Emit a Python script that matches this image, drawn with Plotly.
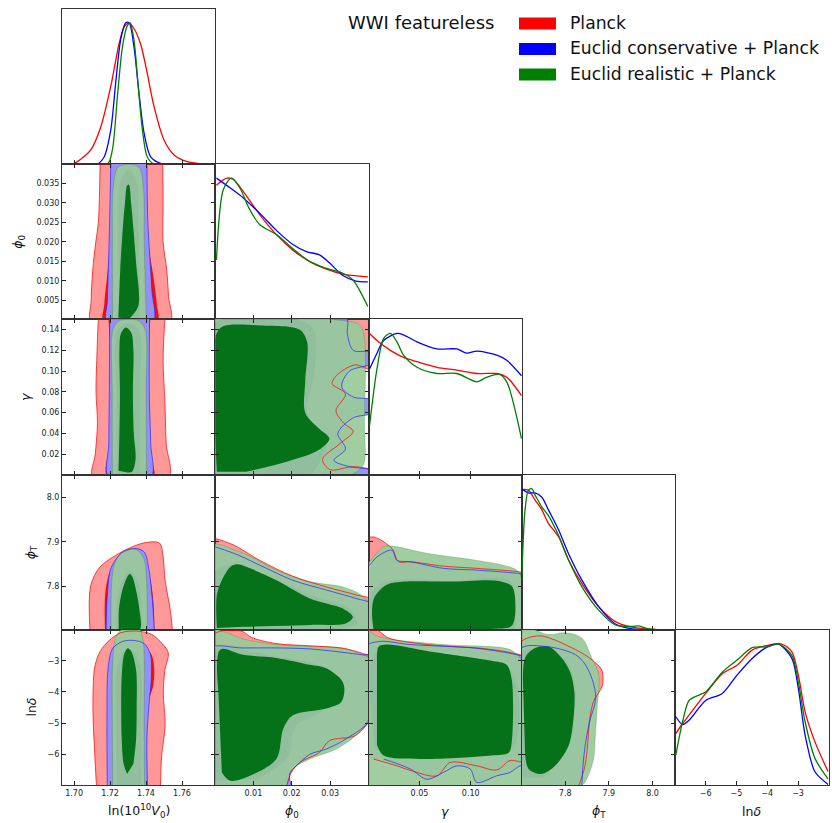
import plotly.graph_objects as go

# ---------------- data ----------------
PARAMS = ["V0", "phi0", "gamma", "phiT", "lnd"]
SERIES = ["Planck", "Euclid conservative + Planck", "Euclid realistic + Planck"]
TITLE = "WWI featureless"
AXIS_LABELS = ["ln(10<sup>10</sup><i>V</i><sub>0</sub>)", "<i>ϕ</i><sub>0</sub>", "<i>γ</i>",
               "<i>ϕ</i><sub>T</sub>", "ln<i>δ</i>"]

RANGES = {"V0": [1.6933, 1.7785], "phi0": [0.0001, 0.0400], "gamma": [0.0003, 0.1499],
          "phiT": [7.7008, 8.052], "lnd": [-6.99, -2.01]}
XTICKS = {"V0": [1.70, 1.72, 1.74, 1.76], "phi0": [0.01, 0.02, 0.03], "gamma": [0.05, 0.10],
          "phiT": [7.8, 7.9, 8.0], "lnd": [-6, -5, -4, -3]}
YTICKS = {"phi0": [0.005, 0.010, 0.015, 0.020, 0.025, 0.030, 0.035],
          "gamma": [0.02, 0.04, 0.06, 0.08, 0.10, 0.12, 0.14],
          "phiT": [7.8, 7.9, 8.0], "lnd": [-6, -5, -4, -3]}
XFMT = {"V0": "{:.2f}", "phi0": "{:.2f}", "gamma": "{:.2f}", "phiT": "{:.1f}", "lnd": "{:.0f}"}
YFMT = {"phi0": "{:.3f}", "gamma": "{:.2f}", "phiT": "{:.1f}", "lnd": "{:.0f}"}

# 1D marginals (normalised to peak 1)
PL_V0_X = [1.690, 1.700, 1.7093, 1.7148, 1.7204, 1.725, 1.7278, 1.7306, 1.7333, 1.737, 1.7407, 1.7444, 1.750, 1.7556, 1.763, 1.770, 1.780]
PL_V0_P = [0.0, 0.005, 0.10, 0.26, 0.55, 0.85, 0.97, 1.0, 0.96, 0.85, 0.64, 0.41, 0.17, 0.064, 0.016, 0.003, 0.0]
EC_V0_X = [1.690, 1.713, 1.7167, 1.7204, 1.7231, 1.7259, 1.7287, 1.7306, 1.7333, 1.7361, 1.7389, 1.7426, 1.7481, 1.780]
EC_V0_P = [0.0, 0.0, 0.05, 0.24, 0.57, 0.88, 1.0, 1.0, 0.83, 0.50, 0.22, 0.05, 0.005, 0.0]
ER_V0_X = [1.690, 1.7185, 1.7213, 1.7241, 1.7269, 1.7296, 1.7311, 1.7333, 1.7352, 1.738, 1.7407, 1.7444, 1.780]
ER_V0_P = [0.0, 0.0, 0.10, 0.48, 0.83, 0.98, 1.0, 0.88, 0.62, 0.24, 0.05, 0.0, 0.0]

PL_PHI0_X = [0.0004, 0.0031, 0.0048, 0.0074, 0.0117, 0.016, 0.0203, 0.0246, 0.029, 0.0333, 0.0398]
PL_PHI0_P = [0.95, 1.0, 0.99, 0.905, 0.74, 0.60, 0.49, 0.41, 0.355, 0.32, 0.30]
EC_PHI0_X = [0.0004, 0.004, 0.0074, 0.0117, 0.016, 0.0203, 0.0238, 0.0272, 0.0298, 0.0333, 0.0367, 0.0398]
EC_PHI0_P = [1.0, 0.93, 0.86, 0.75, 0.63, 0.53, 0.48, 0.456, 0.40, 0.31, 0.27, 0.265]
ER_PHI0_X = [0.0004, 0.0022, 0.0043, 0.0065, 0.0091, 0.0117, 0.016, 0.0203, 0.0246, 0.029, 0.0333, 0.0359, 0.0398]
ER_PHI0_P = [0.42, 0.92, 1.0, 0.93, 0.775, 0.67, 0.60, 0.50, 0.41, 0.36, 0.326, 0.28, 0.09]

PL_GAM_X = [0.0013, 0.0085, 0.0215, 0.0344, 0.0475, 0.067, 0.0864, 0.1059, 0.1254, 0.1351, 0.1495]
PL_GAM_P = [1.0, 0.95, 0.88, 0.83, 0.80, 0.76, 0.74, 0.716, 0.716, 0.69, 0.56]
EC_GAM_X = [0.0013, 0.0085, 0.015, 0.028, 0.0344, 0.0475, 0.067, 0.0864, 0.096, 0.1059, 0.1254, 0.1351, 0.1495]
EC_GAM_P = [0.75, 0.86, 0.95, 1.0, 0.99, 0.94, 0.89, 0.89, 0.86, 0.875, 0.846, 0.81, 0.70]
ER_GAM_X = [0.0013, 0.0085, 0.015, 0.0215, 0.028, 0.0344, 0.0475, 0.067, 0.0864, 0.1059, 0.1157, 0.128, 0.1351, 0.1495]
ER_GAM_P = [0.35, 0.75, 0.965, 1.0, 0.94, 0.846, 0.76, 0.716, 0.716, 0.657, 0.69, 0.71, 0.657, 0.255]

PL_PHIT_X = [7.7005, 7.7157, 7.731, 7.7465, 7.7616, 7.7847, 7.8077, 7.838, 7.8766, 7.915, 7.953, 7.9916, 8.045]
PL_PHIT_P = [0.995, 0.99, 0.92, 0.85, 0.755, 0.66, 0.495, 0.33, 0.165, 0.059, 0.019, 0.005, 0.0]
EC_PHIT_X = [7.7005, 7.7157, 7.731, 7.7465, 7.7616, 7.7847, 7.8077, 7.838, 7.8766, 7.915, 7.953, 7.9916, 8.045]
EC_PHIT_P = [1.0, 0.97, 0.97, 0.94, 0.85, 0.71, 0.54, 0.354, 0.165, 0.042, 0.007, 0.0, 0.0]
ER_PHIT_X = [7.7005, 7.708, 7.7157, 7.7233, 7.731, 7.7465, 7.7616, 7.7847, 7.8077, 7.838, 7.8766, 7.915, 7.953, 7.9683, 7.9916, 8.045]
ER_PHIT_P = [0.354, 0.85, 0.99, 1.0, 0.955, 0.87, 0.81, 0.67, 0.495, 0.307, 0.14, 0.035, 0.024, 0.028, 0.007, 0.0]

PL_LND_X = [-6.97, -6.75, -6.54, -6.0, -5.46, -4.98, -4.49, -3.99, -3.53, -3.2, -2.99, -2.77, -2.45, -2.02]
PL_LND_P = [0.366, 0.437, 0.496, 0.65, 0.79, 0.85, 0.957, 0.99, 1.0, 0.945, 0.78, 0.52, 0.307, 0.095]
EC_LND_X = [-6.97, -6.75, -6.54, -6.0, -5.46, -4.98, -4.49, -3.99, -3.63, -3.2, -2.99, -2.77, -2.45, -2.02]
EC_LND_P = [0.485, 0.43, 0.46, 0.60, 0.65, 0.78, 0.898, 0.98, 1.0, 0.898, 0.686, 0.355, 0.095, 0.005]
ER_LND_X = [-6.97, -6.75, -6.54, -6.2, -6.0, -5.46, -4.98, -4.49, -3.99, -3.63, -3.2, -2.99, -2.77, -2.45, -2.02]
ER_LND_P = [0.213, 0.45, 0.60, 0.64, 0.66, 0.80, 0.886, 0.974, 0.98, 1.0, 0.92, 0.73, 0.45, 0.19, 0.043]

# 2D credible regions (95% and 68%), boundary points in data units (x param, y param)
PL_V0_PHI0_95 = [(1.7145, 0.0415), (1.7135, 0.025), (1.712, 0.0197), (1.7104, 0.0128), (1.7095, 0.005), (1.7098, -0.001),
                 (1.7533, -0.001), (1.7525, 0.006), (1.7515, 0.0128), (1.7495, 0.020), (1.7495, 0.030), (1.7493, 0.0415)]
PL_V0_PHI0_68 = [(1.7215, 0.0415), (1.721, 0.025), (1.719, 0.014), (1.7168, 0.004), (1.7165, -0.001),
                 (1.7462, -0.001), (1.746, 0.004), (1.7438, 0.012), (1.7405, 0.022), (1.7400, 0.0415)]
EC_V0_PHI0_95 = [(1.7205, 0.0415), (1.7195, 0.020), (1.7185, 0.005), (1.7183, -0.001),
                 (1.7437, -0.001), (1.7432, 0.008), (1.741, 0.025), (1.7405, 0.0415)]
EC_V0_PHI0_68 = [(1.7255, -0.001), (1.7245, 0.020), (1.7262, 0.036), (1.7305, 0.0385), (1.7345, 0.036),
                 (1.736, 0.020), (1.7365, -0.001)]
ER_V0_PHI0_95 = [(1.7214, -0.001), (1.7213, 0.020), (1.7218, 0.034), (1.7245, 0.0392), (1.7303, 0.0399),
                 (1.736, 0.0392), (1.7385, 0.034), (1.739, 0.020), (1.7402, -0.001)]
ER_V0_PHI0_68 = [(1.7246, 0.0005), (1.7259, 0.015), (1.7275, 0.026), (1.7283, 0.030), (1.7295, 0.0345), (1.7305, 0.0347),
                 (1.7317, 0.030), (1.7325, 0.026), (1.7344, 0.015), (1.7357, 0.0035), (1.731, 0.0004)]

PL_V0_GAM_95 = [(1.7135, 0.152), (1.7128, 0.12), (1.7122, 0.08), (1.713, 0.05), (1.7118, 0.02), (1.7105, -0.002),
                (1.7525, -0.002), (1.7512, 0.03), (1.7505, 0.07), (1.7495, 0.11), (1.7505, 0.152)]
PL_V0_GAM_68 = [(1.719, 0.152), (1.7198, 0.13), (1.720, 0.08), (1.7198, 0.03), (1.7185, -0.002),
                (1.7442, -0.002), (1.7425, 0.02), (1.7415, 0.08), (1.7415, 0.13), (1.7425, 0.152)]
EC_V0_GAM_95 = [(1.7198, 0.152), (1.7196, 0.08), (1.7193, 0.03), (1.7192, -0.002),
                (1.7428, -0.002), (1.7426, 0.03), (1.7418, 0.08), (1.742, 0.152)]
EC_V0_GAM_68 = [(1.7238, -0.002), (1.7235, 0.08), (1.7242, 0.14), (1.730, 0.146), (1.736, 0.14), (1.7367, 0.08), (1.737, -0.002)]
ER_V0_GAM_95 = [(1.7213, -0.002), (1.7212, 0.08), (1.7216, 0.14), (1.725, 0.1484), (1.7305, 0.1497),
                (1.736, 0.1484), (1.7395, 0.14), (1.740, 0.08), (1.7402, -0.002)]
ER_V0_GAM_68 = [(1.7247, 0.004), (1.7252, 0.04), (1.7255, 0.08), (1.7252, 0.12), (1.726, 0.136), (1.7288, 0.142),
                (1.7318, 0.137), (1.733, 0.12), (1.7327, 0.08), (1.7332, 0.04), (1.7342, 0.015), (1.7322, 0.003), (1.729, 0.0025)]

PL_V0_PHIT_95 = [(1.7089, 7.695), (1.7092, 7.80), (1.7144, 7.843), (1.7283, 7.881), (1.7394, 7.898), (1.7475, 7.897),
                 (1.7495, 7.866), (1.7506, 7.813), (1.7535, 7.745), (1.7548, 7.695)]
PL_V0_PHIT_68 = [(1.7172, 7.695), (1.7175, 7.79), (1.721, 7.84), (1.729, 7.862), (1.737, 7.86), (1.742, 7.82),
                 (1.7442, 7.76), (1.7446, 7.695)]
EC_V0_PHIT_95 = [(1.7178, 7.695), (1.7185, 7.78), (1.7205, 7.84), (1.7265, 7.875), (1.7339, 7.885), (1.739, 7.877),
                 (1.7415, 7.84), (1.7435, 7.77), (1.7447, 7.695)]
EC_V0_PHIT_68 = [(1.7235, 7.695), (1.7238, 7.76), (1.7265, 7.81), (1.731, 7.835), (1.7355, 7.81), (1.7375, 7.76), (1.738, 7.695)]
ER_V0_PHIT_95 = [(1.7206, 7.695), (1.7208, 7.80), (1.7225, 7.85), (1.7265, 7.877), (1.731, 7.884), (1.7355, 7.88),
                 (1.739, 7.86), (1.7404, 7.80), (1.7408, 7.695)]
ER_V0_PHIT_68 = [(1.7248, 7.703), (1.725, 7.75), (1.7268, 7.79), (1.7295, 7.82), (1.731, 7.827), (1.7325, 7.82),
                 (1.7345, 7.79), (1.7362, 7.75), (1.7367, 7.703), (1.731, 7.700)]

PL_V0_LND_95 = [(1.7125, -7.05), (1.7115, -6.0), (1.7105, -4.5), (1.7115, -3.2), (1.7145, -2.7), (1.7195, -2.35),
                (1.726, -2.1), (1.735, -2.05), (1.743, -2.15), (1.749, -2.45), (1.7524, -2.75), (1.7505, -3.3),
                (1.7496, -4.0), (1.7506, -5.07), (1.7487, -6.04), (1.748, -7.05)]
PL_V0_LND_68 = [(1.7195, -7.05), (1.7195, -4.5), (1.7205, -3.0), (1.7245, -2.55), (1.7335, -2.5), (1.7425, -2.75),
                (1.7445, -3.2), (1.744, -3.8), (1.7405, -4.5), (1.7395, -7.05)]
EC_V0_LND_95 = [(1.7185, -7.05), (1.7183, -5.0), (1.719, -3.2), (1.7215, -2.6), (1.727, -2.38), (1.7335, -2.35),
                (1.739, -2.45), (1.7425, -2.8), (1.743, -3.5), (1.7415, -4.5), (1.7405, -5.5), (1.7408, -7.05)]
EC_V0_LND_68 = [(1.7235, -7.05), (1.7232, -5.0), (1.724, -3.2), (1.728, -2.7), (1.733, -2.7), (1.737, -3.2),
                (1.7375, -5.0), (1.7372, -7.05)]
ER_V0_LND_95 = [(1.7215, -7.05), (1.7213, -5.0), (1.7215, -3.0), (1.7235, -2.2), (1.728, -1.95), (1.736, -1.95),
                (1.7385, -2.4), (1.739, -3.0), (1.7389, -5.0), (1.7392, -7.05)]
ER_V0_LND_68 = [(1.7295, -6.63), (1.7275, -6.3), (1.7265, -5.5), (1.7262, -4.5), (1.7265, -3.5), (1.7278, -2.8),
                (1.7298, -2.6), (1.7318, -2.7), (1.7345, -3.3), (1.7348, -4.5), (1.7345, -5.5), (1.733, -6.3)]

PL_PHI0_GAM_95 = [(-0.002, -0.002), (-0.002, 0.153), (0.041, 0.153), (0.041, 0.102), (0.0365, 0.106), (0.032, 0.097),
                  (0.0305, 0.088), (0.034, 0.078), (0.0315, 0.062), (0.0335, 0.050), (0.036, 0.042), (0.0325, 0.030),
                  (0.028, 0.015), (0.030, 0.005), (0.036, 0.008), (0.041, 0.004), (0.041, -0.002)]
PL_PHI0_GAM_68 = [(-0.001, -0.001), (-0.001, 0.145), (0.026, 0.145), (0.027, 0.10), (0.025, 0.06), (0.030, 0.03), (0.026, -0.001)]
EC_PHI0_GAM_95 = [(-0.002, -0.002), (-0.002, 0.153), (0.034, 0.153), (0.0345, 0.135), (0.036, 0.120), (0.041, 0.118),
                  (0.041, 0.108), (0.035, 0.100), (0.033, 0.085), (0.036, 0.075), (0.041, 0.072), (0.041, 0.060),
                  (0.036, 0.055), (0.032, 0.040), (0.034, 0.025), (0.031, 0.014), (0.035, 0.008), (0.041, 0.004), (0.041, -0.002)]
EC_PHI0_GAM_68 = [(-0.001, -0.001), (-0.001, 0.144), (0.025, 0.144), (0.026, 0.10), (0.024, 0.06), (0.029, 0.03), (0.025, -0.001)]
ER_PHI0_GAM_95 = [(-0.002, -0.002), (-0.002, 0.1487), (0.033, 0.1487), (0.0375, 0.145), (0.0388, 0.135), (0.0389, 0.05),
                  (0.0387, 0.010), (0.036, 0.001), (0.030, -0.002)]
ER_PHI0_GAM_68 = [(0.0005, 0.003), (0.0003, 0.135), (0.002, 0.143), (0.012, 0.144), (0.022, 0.14), (0.024, 0.128),
                  (0.0235, 0.09), (0.0235, 0.06), (0.027, 0.045), (0.0298, 0.035), (0.027, 0.024), (0.018, 0.012), (0.008, 0.003)]

PL_PHI0_PHIT_95 = [(-0.002, 7.695), (-0.002, 7.905), (0.004, 7.896), (0.0117, 7.858), (0.0203, 7.822), (0.029, 7.798),
                   (0.0367, 7.78), (0.041, 7.768), (0.041, 7.695)]
PL_PHI0_PHIT_68 = [(-0.001, 7.70), (-0.001, 7.83), (0.005, 7.855), (0.012, 7.83), (0.025, 7.785), (0.036, 7.755), (0.038, 7.72), (0.030, 7.70)]
EC_PHI0_PHIT_95 = [(-0.002, 7.695), (-0.002, 7.886), (0.004, 7.877), (0.0117, 7.847), (0.0203, 7.813), (0.029, 7.791),
                   (0.0367, 7.772), (0.041, 7.758), (0.041, 7.695)]
EC_PHI0_PHIT_68 = [(-0.001, 7.70), (-0.001, 7.825), (0.005, 7.85), (0.013, 7.825), (0.025, 7.78), (0.035, 7.75), (0.037, 7.715), (0.030, 7.70)]
ER_PHI0_PHIT_95 = [(-0.002, 7.695), (-0.002, 7.893), (0.0074, 7.874), (0.016, 7.836), (0.0247, 7.81), (0.0333, 7.798),
                   (0.0375, 7.783), (0.0395, 7.768), (0.041, 7.74), (0.041, 7.695)]
ER_PHI0_PHIT_68 = [(0.0005, 7.705), (0.0005, 7.78), (0.0018, 7.813), (0.004, 7.843), (0.0057, 7.849), (0.0083, 7.843),
                   (0.016, 7.813), (0.0247, 7.772), (0.0333, 7.749), (0.0359, 7.73), (0.0342, 7.716), (0.0247, 7.712), (0.0074, 7.708)]

PL_PHI0_LND_95 = [(-0.002, -7.05), (-0.002, -2.38), (0.0014, -2.05), (0.007, -2.05), (0.0095, -2.25), (0.016, -2.45),
                  (0.0247, -2.52), (0.0333, -2.6), (0.0395, -2.8), (0.041, -2.85), (0.041, -4.7), (0.0367, -5.39),
                  (0.0298, -5.56), (0.0272, -5.94), (0.0221, -6.26), (0.0199, -6.58), (0.0186, -7.05)]
PL_PHI0_LND_68 = [(-0.001, -6.9), (-0.001, -2.6), (0.016, -2.8), (0.030, -3.2), (0.034, -3.8), (0.030, -4.6),
                  (0.022, -5.0), (0.020, -6.0), (0.012, -6.8)]
EC_PHI0_LND_95 = [(-0.002, -7.05), (-0.002, -2.64), (0.0074, -2.59), (0.0247, -2.62), (0.0384, -2.81), (0.041, -2.85),
                  (0.041, -4.8), (0.0342, -5.5), (0.029, -5.83), (0.0247, -6.0), (0.0212, -6.37), (0.0195, -6.6), (0.0199, -7.05)]
EC_PHI0_LND_68 = [(-0.001, -6.85), (-0.001, -2.7), (0.015, -2.85), (0.029, -3.25), (0.033, -3.9), (0.028, -4.6),
                  (0.021, -5.1), (0.019, -6.1), (0.011, -6.8)]
ER_PHI0_LND_95 = [(-0.002, -7.05), (-0.002, -1.95), (0.002, -2.05), (0.0074, -2.3), (0.016, -2.48), (0.0247, -2.54),
                  (0.0333, -2.59), (0.0384, -2.8), (0.041, -3.0), (0.041, -4.6), (0.0367, -5.39), (0.0316, -5.83),
                  (0.0247, -6.15), (0.0203, -6.47), (0.0186, -7.05)]
ER_PHI0_LND_68 = [(0.0009, -4.0), (0.0014, -2.64), (0.0074, -2.81), (0.016, -2.91), (0.0247, -3.13), (0.029, -3.24),
                  (0.0329, -3.61), (0.0337, -3.88), (0.0329, -4.32), (0.029, -4.53), (0.0203, -4.75), (0.0178, -5.18),
                  (0.016, -6.15), (0.0091, -6.69), (0.004, -6.85), (0.0018, -6.58)]

PL_GAM_PHIT_95 = [(-0.002, 7.695), (-0.002, 7.905), (0.005, 7.911), (0.0231, 7.885), (0.0296, 7.855), (0.041, 7.855),
                  (0.0734, 7.845), (0.1059, 7.84), (0.148, 7.832), (0.152, 7.83), (0.152, 7.695)]
PL_GAM_PHIT_68 = [(0.002, 7.70), (0.002, 7.79), (0.02, 7.815), (0.08, 7.815), (0.14, 7.815), (0.146, 7.76), (0.145, 7.70)]
EC_GAM_PHIT_95 = [(-0.002, 7.695), (-0.002, 7.845), (0.001, 7.847), (0.0085, 7.866), (0.0231, 7.881), (0.028, 7.858),
                  (0.041, 7.855), (0.0734, 7.84), (0.1059, 7.836), (0.148, 7.828), (0.152, 7.826), (0.152, 7.695)]
EC_GAM_PHIT_68 = [(0.003, 7.70), (0.003, 7.785), (0.02, 7.812), (0.08, 7.812), (0.138, 7.812), (0.144, 7.76), (0.143, 7.70)]
ER_GAM_PHIT_95 = [(-0.002, 7.695), (-0.002, 7.85), (0.001, 7.855), (0.015, 7.889), (0.0247, 7.89), (0.0572, 7.874),
                  (0.1059, 7.858), (0.1318, 7.847), (0.1448, 7.836), (0.149, 7.821), (0.1495, 7.695)]
ER_GAM_PHIT_68 = [(0.005, 7.703), (0.0036, 7.74), (0.006, 7.775), (0.018, 7.803), (0.035, 7.81), (0.08, 7.81),
                  (0.125, 7.812), (0.14, 7.80), (0.1435, 7.76), (0.14, 7.71), (0.12, 7.703), (0.02, 7.703)]

PL_GAM_LND_95 = [(-0.002, -6.15), (-0.002, -2.1), (0.006, -1.97), (0.02, -2.27), (0.05, -2.45), (0.08, -2.54),
                 (0.11, -2.6), (0.14, -2.75), (0.152, -2.9), (0.152, -6.2), (0.1383, -6.2), (0.1254, -6.5),
                 (0.1059, -6.37), (0.0799, -6.26), (0.067, -6.69), (0.0442, -6.55), (0.028, -6.37), (0.005, -6.15)]
PL_GAM_LND_68 = [(0.006, -5.9), (0.006, -2.7), (0.05, -2.8), (0.14, -3.2), (0.143, -5.9), (0.10, -6.05)]
EC_GAM_LND_95 = [(-0.002, -5.94), (-0.002, -2.54), (0.0117, -2.38), (0.041, -2.48), (0.1059, -2.6), (0.145, -2.81),
                 (0.152, -2.9), (0.152, -6.37), (0.148, -6.37), (0.1383, -6.58), (0.1254, -6.69), (0.1059, -6.9),
                 (0.0994, -6.47), (0.0864, -6.37), (0.0734, -6.58), (0.0572, -6.8), (0.041, -6.47), (0.015, -6.15)]
EC_GAM_LND_68 = [(0.007, -5.85), (0.007, -2.75), (0.05, -2.85), (0.138, -3.25), (0.141, -5.85), (0.10, -6.0)]
ER_GAM_LND_95 = [(-0.002, -7.05), (-0.002, -1.95), (0.005, -2.15), (0.015, -2.27), (0.0734, -2.48), (0.1383, -2.64),
                 (0.148, -2.91), (0.152, -3.2), (0.152, -7.05)]
ER_GAM_LND_68 = [(0.0085, -3.0), (0.010, -2.55), (0.018, -2.48), (0.06, -2.7), (0.12, -3.0), (0.135, -3.13),
                 (0.14, -3.6), (0.14, -5.6), (0.137, -5.95), (0.12, -6.04), (0.05, -6.15), (0.015, -6.04), (0.0085, -5.7)]

PL_PHIT_LND_95 = [(7.695, -7.05), (7.695, -2.45), (7.74, -2.2), (7.77, -2.3), (7.838, -2.75), (7.861, -2.97),
                  (7.884, -3.3), (7.885, -3.8), (7.865, -4.3), (7.855, -5.0), (7.852, -5.6), (7.845, -6.4), (7.83, -7.05)]
PL_PHIT_LND_68 = [(7.699, -6.8), (7.699, -2.7), (7.76, -2.6), (7.80, -2.9), (7.825, -3.8), (7.82, -5.0), (7.79, -6.2), (7.75, -6.8)]
EC_PHIT_LND_95 = [(7.695, -7.05), (7.695, -2.64), (7.76, -2.55), (7.823, -2.8), (7.845, -3.1), (7.862, -3.6),
                  (7.87, -4.2), (7.855, -5.0), (7.845, -5.8), (7.84, -6.5), (7.838, -7.05)]
EC_PHIT_LND_68 = [(7.699, -6.75), (7.699, -2.75), (7.76, -2.65), (7.80, -2.95), (7.823, -3.8), (7.818, -5.0), (7.785, -6.2), (7.75, -6.75)]
ER_PHIT_LND_95 = [(7.695, -7.05), (7.695, -1.95), (7.7616, -2.16), (7.80, -2.1), (7.838, -2.27), (7.861, -2.91),
                  (7.877, -3.45), (7.873, -4.53), (7.869, -5.39), (7.865, -6.15), (7.845, -6.9), (7.831, -7.05)]
ER_PHIT_LND_68 = [(7.704, -4.0), (7.708, -2.91), (7.731, -2.59), (7.762, -2.54), (7.792, -2.91), (7.811, -3.35),
                  (7.821, -3.99), (7.819, -4.85), (7.808, -5.72), (7.777, -6.37), (7.746, -6.63), (7.716, -6.47), (7.708, -5.94)]

# ---------------- assemble ----------------
MARGINALS = {
    "V0": [(PL_V0_X, PL_V0_P), (EC_V0_X, EC_V0_P), (ER_V0_X, ER_V0_P)],
    "phi0": [(PL_PHI0_X, PL_PHI0_P), (EC_PHI0_X, EC_PHI0_P), (ER_PHI0_X, ER_PHI0_P)],
    "gamma": [(PL_GAM_X, PL_GAM_P), (EC_GAM_X, EC_GAM_P), (ER_GAM_X, ER_GAM_P)],
    "phiT": [(PL_PHIT_X, PL_PHIT_P), (EC_PHIT_X, EC_PHIT_P), (ER_PHIT_X, ER_PHIT_P)],
    "lnd": [(PL_LND_X, PL_LND_P), (EC_LND_X, EC_LND_P), (ER_LND_X, ER_LND_P)],
}
CONTOURS = {
    (1, 0): [(PL_V0_PHI0_95, PL_V0_PHI0_68), (EC_V0_PHI0_95, EC_V0_PHI0_68), (ER_V0_PHI0_95, ER_V0_PHI0_68)],
    (2, 0): [(PL_V0_GAM_95, PL_V0_GAM_68), (EC_V0_GAM_95, EC_V0_GAM_68), (ER_V0_GAM_95, ER_V0_GAM_68)],
    (3, 0): [(PL_V0_PHIT_95, PL_V0_PHIT_68), (EC_V0_PHIT_95, EC_V0_PHIT_68), (ER_V0_PHIT_95, ER_V0_PHIT_68)],
    (4, 0): [(PL_V0_LND_95, PL_V0_LND_68), (EC_V0_LND_95, EC_V0_LND_68), (ER_V0_LND_95, ER_V0_LND_68)],
    (2, 1): [(PL_PHI0_GAM_95, PL_PHI0_GAM_68), (EC_PHI0_GAM_95, EC_PHI0_GAM_68), (ER_PHI0_GAM_95, ER_PHI0_GAM_68)],
    (3, 1): [(PL_PHI0_PHIT_95, PL_PHI0_PHIT_68), (EC_PHI0_PHIT_95, EC_PHI0_PHIT_68), (ER_PHI0_PHIT_95, ER_PHI0_PHIT_68)],
    (4, 1): [(PL_PHI0_LND_95, PL_PHI0_LND_68), (EC_PHI0_LND_95, EC_PHI0_LND_68), (ER_PHI0_LND_95, ER_PHI0_LND_68)],
    (3, 2): [(PL_GAM_PHIT_95, PL_GAM_PHIT_68), (EC_GAM_PHIT_95, EC_GAM_PHIT_68), (ER_GAM_PHIT_95, ER_GAM_PHIT_68)],
    (4, 2): [(PL_GAM_LND_95, PL_GAM_LND_68), (EC_GAM_LND_95, EC_GAM_LND_68), (ER_GAM_LND_95, ER_GAM_LND_68)],
    (4, 3): [(PL_PHIT_LND_95, PL_PHIT_LND_68), (EC_PHIT_LND_95, EC_PHIT_LND_68), (ER_PHIT_LND_95, ER_PHIT_LND_68)],
}

# ---------------- style ----------------
FW, FH = 832, 823
LEFT0, TOP0, PW, PH = 62.0, 8.7, 153.3, 155.3
LINE_COLORS = ["#ff0000", "#0000ff", "#008000"]
FILL95 = ["rgba(255,0,0,0.40)", "rgba(148,148,252,0.97)", "rgba(153,202,153,0.93)"]
FILL68 = ["rgba(255,0,0,0.95)", "rgba(40,40,220,0.9)", "rgba(0,112,22,0.97)"]
EDGE95 = ["rgba(255,0,0,0.9)", "rgba(40,40,255,0.9)", "rgba(0,128,0,0.35)"]
FONT = "DejaVu Sans"
FRAME = "#333333"

def fmt(f, v):
    return f.format(v).replace("-", "\u2212")

fig = go.Figure()
layout = {}
k = 0
for r in range(5):
    for c in range(r + 1):
        k += 1
        x0 = LEFT0 + c * PW
        y0 = TOP0 + r * PH
        xp, yp = PARAMS[c], PARAMS[r]
        xa = dict(domain=[x0 / FW, (x0 + PW) / FW], anchor=f"y{k}", range=RANGES[xp],
                  tickmode="array", tickvals=XTICKS[xp], ticktext=[fmt(XFMT[xp], v) for v in XTICKS[xp]],
                  showticklabels=(r == 4), ticks="inside", ticklen=4, tickwidth=1, tickcolor="#222",
                  showline=True, linecolor=FRAME, linewidth=1, mirror=(True if r == c else "ticks"),
                  showgrid=False, zeroline=False, tickfont=dict(family=FONT, size=8, color="#222"))
        if r == c:
            ya = dict(domain=[1 - (y0 + PH) / FH, 1 - y0 / FH], anchor=f"x{k}", range=[0, 1.1],
                      showticklabels=False, ticks="", showline=True, linecolor=FRAME, linewidth=1,
                      mirror=True, showgrid=False, zeroline=False)
        else:
            ya = dict(domain=[1 - (y0 + PH) / FH, 1 - y0 / FH], anchor=f"x{k}", range=RANGES[yp],
                      tickmode="array", tickvals=YTICKS[yp], ticktext=[fmt(YFMT[yp], v) for v in YTICKS[yp]],
                      showticklabels=(c == 0), ticks="inside", ticklen=4, tickwidth=1, tickcolor="#222",
                      showline=True, linecolor=FRAME, linewidth=1, mirror="ticks",
                      showgrid=False, zeroline=False, tickfont=dict(family=FONT, size=8, color="#222"))
        layout[f"xaxis{k}"] = xa
        layout[f"yaxis{k}"] = ya

        if r == c:
            for s, (xs, ps) in enumerate(MARGINALS[xp]):
                fig.add_trace(go.Scatter(x=xs, y=ps, mode="lines", xaxis=f"x{k}", yaxis=f"y{k}",
                                         line=dict(color=LINE_COLORS[s], width=1.3, shape="spline", smoothing=0.8),
                                         showlegend=False, hoverinfo="skip"))
        else:
            regions = CONTOURS[(r, c)]
            for s, (c95, c68) in enumerate(regions):
                for pts, fc, edge in ((c95, FILL95[s], EDGE95[s] if s == 2 else None), (c68, FILL68[s], None)):
                    fig.add_trace(go.Scatter(
                        x=[p[0] for p in pts], y=[p[1] for p in pts], mode="lines", fill="toself",
                        fillcolor=fc, xaxis=f"x{k}", yaxis=f"y{k}",
                        line=dict(color=edge if edge else "rgba(0,0,0,0)", width=0.7 if edge else 0,
                                  shape="spline", smoothing=0.9),
                        showlegend=False, hoverinfo="skip"))
            for s in (0, 1):
                pts = regions[s][0]
                fig.add_trace(go.Scatter(
                    x=[p[0] for p in pts], y=[p[1] for p in pts], mode="lines",
                    xaxis=f"x{k}", yaxis=f"y{k}",
                    line=dict(color=EDGE95[s], width=0.8, shape="spline", smoothing=0.9),
                    showlegend=False, hoverinfo="skip"))

annotations = []
shapes = []
# axis titles
for c in range(5):
    annotations.append(dict(text=AXIS_LABELS[c], x=(LEFT0 + c * PW + PW / 2) / FW, y=1 - 811 / FH,
                            xref="paper", yref="paper", showarrow=False, xanchor="center", yanchor="middle",
                            font=dict(family=FONT, size=12.5, color="#111")))
YT_X = [None, 19, 26, 31, 32]
for r in range(1, 5):
    annotations.append(dict(text=AXIS_LABELS[r], x=YT_X[r] / FW, y=1 - (TOP0 + r * PH + PH / 2) / FH,
                            xref="paper", yref="paper", showarrow=False, xanchor="center", yanchor="middle",
                            textangle=-90, font=dict(family=FONT, size=12.5, color="#111")))
# legend
annotations.append(dict(text=TITLE, x=346 / FW, y=1 - 22 / FH, xref="paper", yref="paper", showarrow=False,
                        xanchor="left", yanchor="middle", font=dict(family=FONT, size=18, color="#111")))
LEG_Y = [23.5, 49.0, 74.5]
for s, name in enumerate(SERIES):
    shapes.append(dict(type="rect", xref="paper", yref="paper", x0=519 / FW, x1=556 / FW,
                       y0=1 - (LEG_Y[s] + 6) / FH, y1=1 - (LEG_Y[s] - 6) / FH,
                       fillcolor=LINE_COLORS[s], line=dict(width=0)))
    annotations.append(dict(text=name, x=568 / FW, y=1 - (LEG_Y[s] - 0.5) / FH, xref="paper", yref="paper",
                            showarrow=False, xanchor="left", yanchor="middle",
                            font=dict(family=FONT, size=17.2, color="#111")))

fig.update_layout(**layout)
fig.update_layout(width=FW, height=FH, margin=dict(l=0, r=0, t=0, b=0), autosize=False,
                  paper_bgcolor="white", plot_bgcolor="rgba(0,0,0,0)", showlegend=False,
                  annotations=annotations, shapes=shapes, font=dict(family=FONT))
fig.write_html("out.html")
